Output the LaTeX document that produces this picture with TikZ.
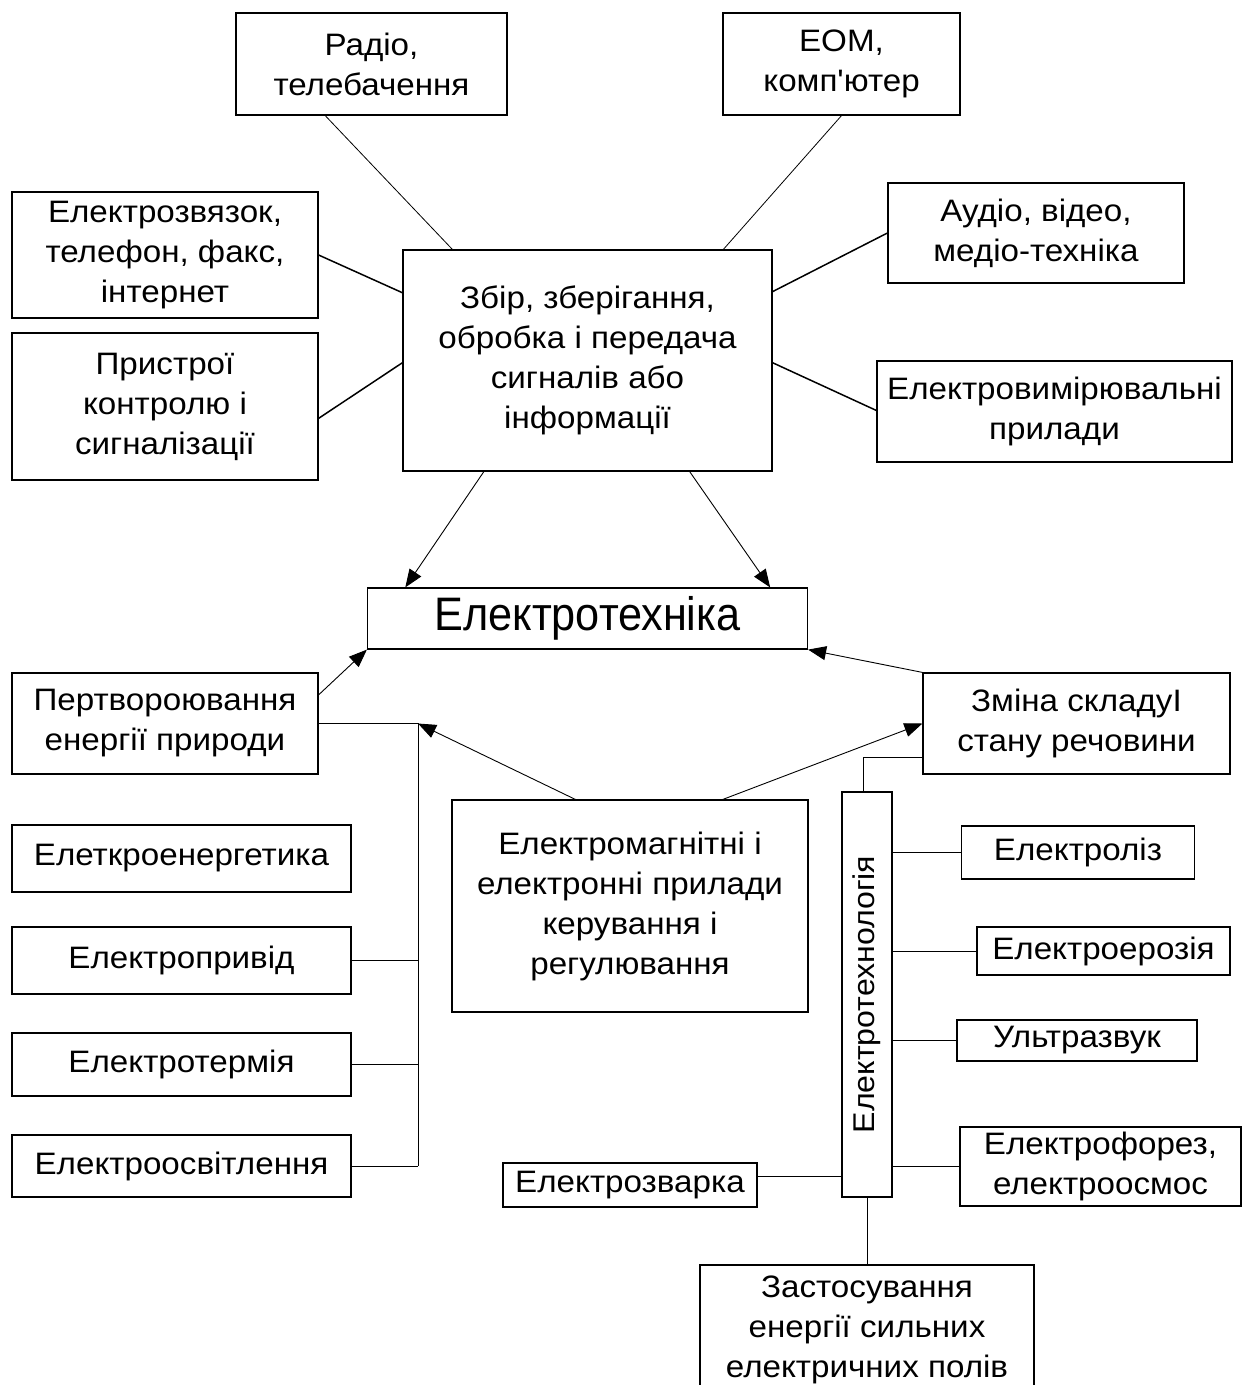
\documentclass[tikz,border=0pt]{standalone}
\usepackage{fontspec}
\setmainfont{Liberation Sans}
\newfontfamily\txtfont{Liberation Sans}[FakeStretch=1.07]
\newfontfamily\bigfont{Liberation Sans}[FakeStretch=0.92]
\usetikzlibrary{arrows.meta,calc}
\begin{document}
\begin{tikzpicture}[x=1pt,y=-1pt,
  box/.style={draw, line width=1.2pt, inner sep=0pt, align=center,
    font=\txtfont\fontsize{31}{40}\selectfont},
  link/.style={line width=1pt},
  thick link/.style={line width=1.5pt},
  thin link/.style={line width=0.8pt},
  arr/.style={line width=0.9pt, -{Triangle[length=18pt,width=14pt]}}]
\useasboundingbox (0,0) rectangle (1242,1385);

% top group
\node[box, minimum width=271pt, minimum height=102pt] (radio) at (371.5,64) {Радіо,\\телебачення};
\node[box, minimum width=237pt, minimum height=102pt] (eom) at (841.5,64) {ЕОМ,\\комп'ютер};
\node[box, minimum width=306pt, minimum height=126pt] (svyaz) at (165,255) {Електрозвязок,\\телефон, факс,\\інтернет};
\node[box, minimum width=296pt, minimum height=100pt] (audio) at (1036,233) {Аудіо, відео,\\медіо-техніка};
\node[box, minimum width=306pt, minimum height=147pt] (prystroi) at (165,406.5) {Пристрої\\контролю і\\сигналізації};
\node[box, minimum width=369pt, minimum height=221pt] (central) at (587.5,360.5) {Збір, зберігання,\\обробка і передача\\сигналів або\\інформації};
\node[box, minimum width=355pt, minimum height=101pt] (vymir) at (1054.5,411.5) {Електровимірювальні\\прилади};

\node[box, minimum width=440pt, minimum height=61pt, font=\bigfont\fontsize{47}{50}\selectfont] (et) at (587.5,618.5) {Електротехніка};

% left group
\node[box, minimum width=306pt, minimum height=101pt] (pertv) at (165,723.5) {Пертвороювання\\енергії природи};
\node[box, minimum width=339pt, minimum height=67pt] (energ) at (181.5,858.5) {Елеткроенергетика};
\node[box, minimum width=339pt, minimum height=67pt] (pryvid) at (181.5,960.5) {Електропривід};
\node[box, minimum width=339pt, minimum height=63pt] (termia) at (181.5,1064.5) {Електротермія};
\node[box, minimum width=339pt, minimum height=62pt] (osvit) at (181.5,1166) {Електроосвітлення};

% middle
\node[box, minimum width=356pt, minimum height=212pt] (emag) at (630,906) {Електромагнітні і\\електронні прилади\\керування і\\регулювання};

% right group
\node[box, minimum width=307pt, minimum height=101pt] (zmina) at (1076.5,723.5) {Зміна складуІ\\стану речовини};
\node[box, minimum width=50pt, minimum height=405pt, font=\txtfont\fontsize{30}{36}\selectfont] (tech) at (867,994.5) {\rotatebox{90}{Електротехнологія}};
\node[box, minimum width=233pt, minimum height=53pt] (lizis) at (1078,852.5) {Електроліз};
\node[box, minimum width=253pt, minimum height=48pt] (erozia) at (1103.5,951) {Електроерозія};
\node[box, minimum width=240pt, minimum height=41pt] (ultra) at (1077,1040.5) {Ультразвук};
\node[box, minimum width=281pt, minimum height=79pt] (forez) at (1100.5,1166.5) {Електрофорез,\\електроосмос};
\node[box, minimum width=254pt, minimum height=44pt] (zvarka) at (630,1185) {Електрозварка};
\node[box, minimum width=334pt, minimum height=130pt] (zast) at (867,1330) {Застосування\\енергії сильних\\електричних полів};

% connectors of the top group
\draw[thin link] ($(radio.south west)!0.33!(radio.south east)$) -- ($(central.north west)!0.135!(central.north east)$);
\draw[thin link] (eom.south) -- ($(central.north west)!0.867!(central.north east)$);
\draw[thick link] (svyaz.east) -- ($(central.north west)!0.195!(central.south west)$);
\draw[thick link] ($(prystroi.north east)!0.58!(prystroi.south east)$) -- ($(central.north west)!0.51!(central.south west)$);
\draw[thick link] (audio.west) -- ($(central.north east)!0.19!(central.south east)$);
\draw[thick link] ($(vymir.north west)!0.49!(vymir.south west)$) -- ($(central.north east)!0.51!(central.south east)$);

% arrows into Електротехніка
\draw[arr] ($(central.south west)!0.22!(central.south east)$) -- ($(et.north west)!0.087!(et.north east)$);
\draw[arr] ($(central.south west)!0.776!(central.south east)$) -- ($(et.north west)!0.914!(et.north east)$);
\draw[arr] ($(pertv.north east)!0.22!(pertv.south east)$) -- (et.south west);
\draw[arr] (zmina.north west) -- (et.south east);

% left bus
\coordinate (busTop) at (418,723.5);
\coordinate (busBot) at (418,1166);
\draw[link] (pertv.east) -- (busTop) -- (busBot);
\draw[link] (pryvid.east) -- (pryvid.east -| busTop);
\draw[link] (termia.east) -- (termia.east -| busTop);
\draw[link] (osvit.east) -- (busBot);

% arrows from Електромагнітні
\draw[arr] ($(emag.north west)!0.347!(emag.north east)$) -- (busTop);
\draw[arr] ($(emag.north west)!0.76!(emag.north east)$) -- (zmina.west);

% Електротехнологія connections
\coordinate (techTop) at ($(tech.north west)!0.44!(tech.north east)$);
\coordinate (zminaLow) at ($(zmina.north west)!0.83!(zmina.south west)$);
\coordinate (zvEnd) at ($(zvarka.north east)!0.32!(zvarka.south east)$);
\draw[link] (techTop) |- (zminaLow);
\draw[link] (lizis.west) -- (lizis.west -| tech.east);
\draw[link] (erozia.west) -- (erozia.west -| tech.east);
\draw[link] (ultra.west) -- (ultra.west -| tech.east);
\draw[link] (forez.west) -- (forez.west -| tech.east);
\draw[link] (zvEnd) -- (zvEnd -| tech.west);
\draw[link] (tech.south) -- (zast.north);
\end{tikzpicture}
\end{document}
